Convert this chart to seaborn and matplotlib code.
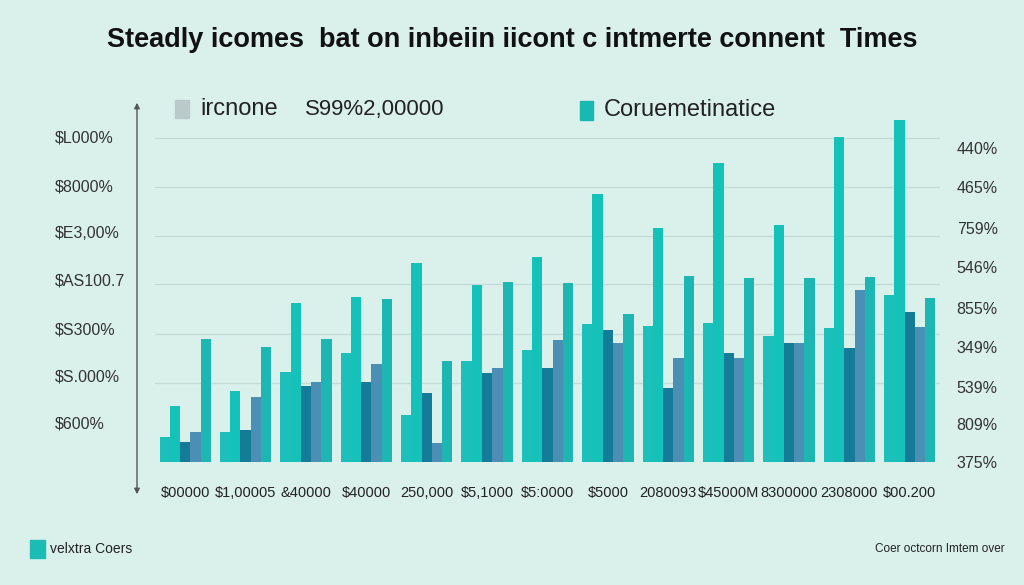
import pandas as pd
import seaborn as sns
import matplotlib.pyplot as plt
from matplotlib.patches import Rectangle, FancyArrowPatch

# categories along the bottom (as printed in the picture)
groups = ["$00000", "$1,00005", "&40000", "$40000", "250,000", "$5,1000", "$5:0000",
          "$5000", "2080093", "$45000M", "8300000", "2308000", "$00.200"]

# bar heights, share of the plot height (0-100)
base = [6.9, 8.3, 25, 30, 13, 28, 31, 38, 37.6, 38.4, 34.8, 37, 46]
peak = [15.5, 19.6, 44, 45.6, 55, 49, 56.6, 74, 64.6, 82.6, 65.5, 89.8, 94.5]
dark = [5.5, 8.8, 21, 22, 19, 24.6, 26, 36.5, 20.4, 30, 32.9, 31.5, 41.4]
steel = [8.3, 18, 22, 27, 5.2, 26, 33.7, 33, 28.7, 28.7, 32.9, 47.5, 37.3]
second = [34, 31.8, 34, 45, 28, 49.7, 49.4, 41, 51.4, 50.8, 50.8, 51, 45.3]

left_ticks = [89.8, 76.5, 63.5, 50.3, 37, 24, 11]
left_labels = ["$L000%", "$8000%", "$E3,00%", "$AS100.7", "$S300%", "$S.000%", "$600%"]
right_ticks = [86.5, 75.4, 63.8, 52.8, 41.4, 30.4, 19.1, 8.6, -2.2]
right_labels = ["440%", "465%", "759%", "546%", "855%", "349%", "539%", "809%", "375%"]
grid_y = [89.5, 76, 62.4, 49.2, 35.4, 21.8]

BG = "#daf0eb"
palette = ["#1cbfb9", "#15c2ba", "#147c98", "#4b90b4", "#1db6b2"]

series = {"base": base, "peak": peak, "dark": dark, "steel": steel, "second": second}
rows = []
for name, vals in series.items():
    for g, v in zip(groups, vals):
        rows.append({"group": g, "series": name, "value": v})
df = pd.DataFrame(rows)

sns.set_style("white")
plt.rcParams["font.family"] = ["Liberation Sans", "DejaVu Sans"]

fig = plt.figure(figsize=(10.24, 5.85), dpi=100, facecolor=BG)
ax = fig.add_axes([155 / 1024, 123 / 585, 785 / 1024, 362 / 585])
ax.set_facecolor(BG)

for y in grid_y:
    ax.axhline(y, color="#c3dcd7", lw=1, zorder=0)

sns.barplot(data=df, x="group", y="value", hue="series", order=groups,
            palette=palette, width=0.85, gap=0, dodge=True, legend=False,
            saturation=1, linewidth=0, ax=ax, zorder=2)

ax.set_xlim(-0.5, len(groups) - 0.5)
ax.set_ylim(0, 100)
ax.set_xlabel("")
ax.set_ylabel("")
for s in ax.spines.values():
    s.set_visible(False)
ax.tick_params(axis="x", length=0, pad=17, labelsize=10.5, labelcolor="#222222")
ax.set_yticks(left_ticks)
ax.set_yticklabels(left_labels)
ax.tick_params(axis="y", length=0, pad=72, labelsize=11.5, labelcolor="#333333")
for lab in ax.get_yticklabels():
    lab.set_ha("left")

ax2 = ax.twinx()
ax2.set_ylim(0, 100)
ax2.set_yticks(right_ticks)
ax2.set_yticklabels(right_labels)
ax2.tick_params(axis="y", length=0, pad=12, labelsize=11.5, labelcolor="#333333")
for s in ax2.spines.values():
    s.set_visible(False)

# vertical double arrow on the left
fig.patches.append(FancyArrowPatch(
    (137, 585 - 497), (137, 585 - 100), transform=None, arrowstyle="<|-|>",
    mutation_scale=8, color="#555555", lw=1))

# title
fig.text(0.5, 1 - 40 / 585, "Steadly icomes  bat on inbeiin iicont c intmerte connent  Times",
         ha="center", va="center", fontsize=19.5, fontweight="bold", color="#111111")

# top legend
fig.patches.append(Rectangle((175 / 1024, 1 - 118 / 585), 14 / 1024, 18 / 585,
                             transform=fig.transFigure, color="#b9c9cc"))
fig.text(200 / 1024, 1 - 109 / 585, "ircnone", ha="left", va="center", fontsize=17, color="#222222")
fig.text(305 / 1024, 1 - 109 / 585, "S99%2,00000", ha="left", va="center", fontsize=16, color="#222222")
fig.patches.append(Rectangle((580 / 1024, 1 - 120 / 585), 13 / 1024, 19 / 585,
                             transform=fig.transFigure, color="#17bab3"))
fig.text(604 / 1024, 1 - 110 / 585, "Coruemetinatice", ha="left", va="center", fontsize=17, color="#222222")

# bottom legend / note
fig.patches.append(Rectangle((30 / 1024, 1 - 558 / 585), 15 / 1024, 18 / 585,
                             transform=fig.transFigure, color="#1bbcb4"))
fig.text(50 / 1024, 1 - 549 / 585, "velxtra Coers", ha="left", va="center", fontsize=10, color="#222222")
fig.text(1005 / 1024, 1 - 549 / 585, "Coer octcorn Imtem over", ha="right", va="center",
         fontsize=8.5, color="#222222")

fig.savefig("out.png", dpi=100, facecolor=BG)
